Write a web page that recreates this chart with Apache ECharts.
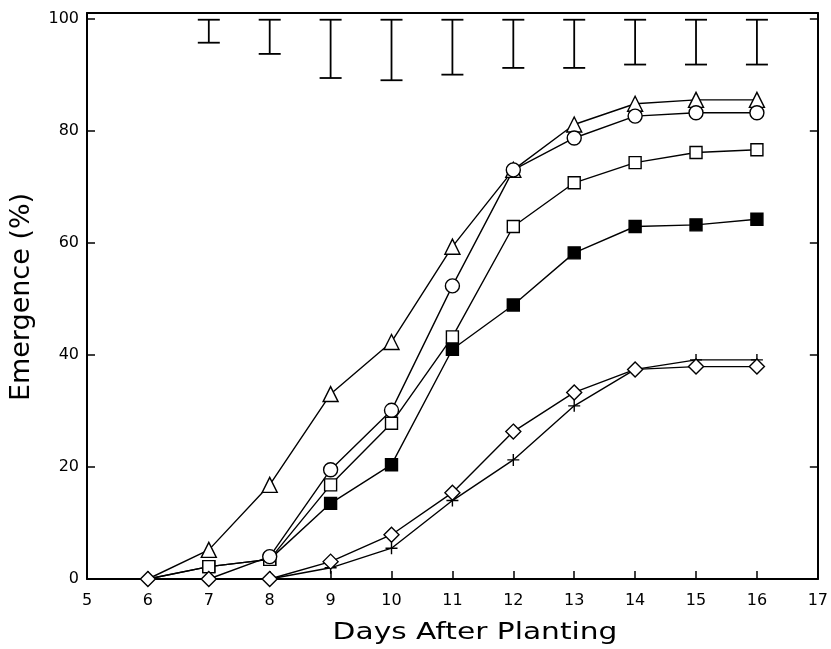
<!DOCTYPE html>
<html>
<head>
<meta charset="utf-8">
<script src="https://cdn.jsdelivr.net/npm/echarts@6/dist/echarts.min.js"></script>
<style>
html,body{margin:0;padding:0;background:#fff;}
#chart{width:831px;height:649px;}
</style>
</head>
<body>
<div id="chart"></div>
<script>
// Days after planting
var days = [6, 7, 8, 9, 10, 11, 12, 13, 14, 15, 16];
// Emergence (%) per treatment
var triangleVals = [0, 5.2, 16.8, 33.0, 42.3, 59.3, 73.0, 81.1, 84.8, 85.5, 85.5];
var filledSquareVals = [0, 2.2, 3.5, 13.5, 20.4, 41.0, 48.9, 58.2, 62.9, 63.2, 64.2];
var openSquareVals = [0, 2.2, 3.5, 16.8, 27.8, 43.2, 62.9, 70.7, 74.3, 76.1, 76.6];
var circleVals = [0, 0, 4.0, 19.5, 30.1, 52.3, 73.0, 78.7, 82.6, 83.2, 83.2];
var plusVals = [0, 0, 0, 2.0, 5.5, 14.0, 21.25, 30.9, 37.4, 39.1, 39.1];
var diamondVals = [0, 0, 0, 3.1, 7.9, 15.4, 26.3, 33.3, 37.4, 37.9, 37.9];
// Bars drawn at the top of the plot
var barDays = [7, 8, 9, 10, 11, 12, 13, 14, 15, 16];
var barLow = [95.7, 93.7, 89.4, 89.0, 90.0, 91.2, 91.2, 91.8, 91.8, 91.8];
var barHigh = [99.8, 99.8, 99.8, 99.8, 99.8, 99.8, 99.8, 99.8, 99.8, 99.8];
var xTicks = [5, 6, 7, 8, 9, 10, 11, 12, 13, 14, 15, 16, 17];
var yTicks = [0, 20, 40, 60, 80, 100];

var FONT = 'DejaVu Sans';
var chart = echarts.init(document.getElementById('chart'), null, {renderer: 'canvas'});

// markers at zero are hidden under the diamond markers in the original
function pairs(vals, hideZero) {
  return days.map(function (d, i) {
    var item = {value: [d, vals[i]]};
    if (hideZero && vals[i] === 0) item.symbol = 'none';
    return item;
  });
}

function lineSeries(name, vals, symbol, size, fill, hideZero) {
  return {
    name: name, type: 'line', data: pairs(vals, hideZero),
    symbol: symbol, symbolSize: size, showSymbol: true,
    lineStyle: {color: '#000', width: 1.4},
    itemStyle: {color: fill, borderColor: '#000', borderWidth: 1.4},
    emphasis: {disabled: true}, z: 3
  };
}

var option = {
  animation: false,
  backgroundColor: '#fff',
  grid: {left: 87, right: 10, top: 13, bottom: 70},
  xAxis: [{
    type: 'value', min: xTicks[0], max: xTicks[xTicks.length - 1], interval: 1,
    axisLine: {lineStyle: {color: '#000', width: 2}},
    axisTick: {inside: true, length: 8, lineStyle: {color: '#000', width: 1.5}},
    axisLabel: {color: '#000', fontFamily: FONT, fontSize: 16, margin: 14},
    splitLine: {show: false}
  }, {
    type: 'value', position: 'top', min: 5, max: 17,
    axisLine: {show: true, onZero: false, lineStyle: {color: '#000', width: 2}},
    axisTick: {show: false}, axisLabel: {show: false}, splitLine: {show: false}
  }],
  yAxis: [{
    type: 'value', min: 0, max: 101, interval: 20,
    axisLine: {show: true, lineStyle: {color: '#000', width: 2}},
    axisTick: {show: true, inside: true, length: 8, lineStyle: {color: '#000', width: 1.5}},
    axisLabel: {color: '#000', fontFamily: FONT, fontSize: 16, margin: 8,
      formatter: function (v) { return yTicks.indexOf(v) >= 0 ? String(v) : ''; }},
    splitLine: {show: false}
  }, {
    type: 'value', position: 'right', min: 0, max: 101, interval: 20,
    axisLine: {show: true, onZero: false, lineStyle: {color: '#000', width: 2}},
    axisTick: {show: true, inside: true, length: 8, lineStyle: {color: '#000', width: 1.5}},
    axisLabel: {show: false}, splitLine: {show: false}
  }],
  graphic: [{
    type: 'text',
    x: 22, y: 297,
    rotation: Math.PI / 2,
    style: {text: 'Emergence (%)', font: '27px "' + FONT + '"', fill: '#000', textAlign: 'center', textVerticalAlign: 'middle'}
  }, {
    type: 'text',
    x: 475, y: 633,
    scaleX: 1.29,
    style: {text: 'Days After Planting', font: '23px "' + FONT + '"', fill: '#000', textAlign: 'center', textVerticalAlign: 'middle'}
  }],
  series: [
    lineSeries('triangle', triangleVals, 'triangle', 15, '#fff', true),
    lineSeries('filledSquare', filledSquareVals, 'rect', 12, '#000', true),
    lineSeries('openSquare', openSquareVals, 'rect', 12, '#fff', true),
    lineSeries('circle', circleVals, 'circle', 14, '#fff', true),
    lineSeries('plus', plusVals, 'path://M0,6H12M6,0V12', 12, 'none', true),
    lineSeries('diamond', diamondVals, 'diamond', 15, '#fff', false),
    {
      type: 'custom', name: 'bars',
      data: barDays.map(function (d, i) { return [d, barLow[i], barHigh[i]]; }),
      renderItem: function (params, api) {
        var lo = api.coord([api.value(0), api.value(1)]);
        var hi = api.coord([api.value(0), api.value(2)]);
        var hw = 11;
        var st = {stroke: '#000', lineWidth: 1.8};
        return {type: 'group', children: [
          {type: 'line', shape: {x1: lo[0], y1: lo[1], x2: hi[0], y2: hi[1]}, style: st},
          {type: 'line', shape: {x1: lo[0] - hw, y1: lo[1], x2: lo[0] + hw, y2: lo[1]}, style: st},
          {type: 'line', shape: {x1: hi[0] - hw, y1: hi[1], x2: hi[0] + hw, y2: hi[1]}, style: st}
        ]};
      },
      z: 4
    }
  ]
};
chart.setOption(option);
</script>
</body>
</html>
